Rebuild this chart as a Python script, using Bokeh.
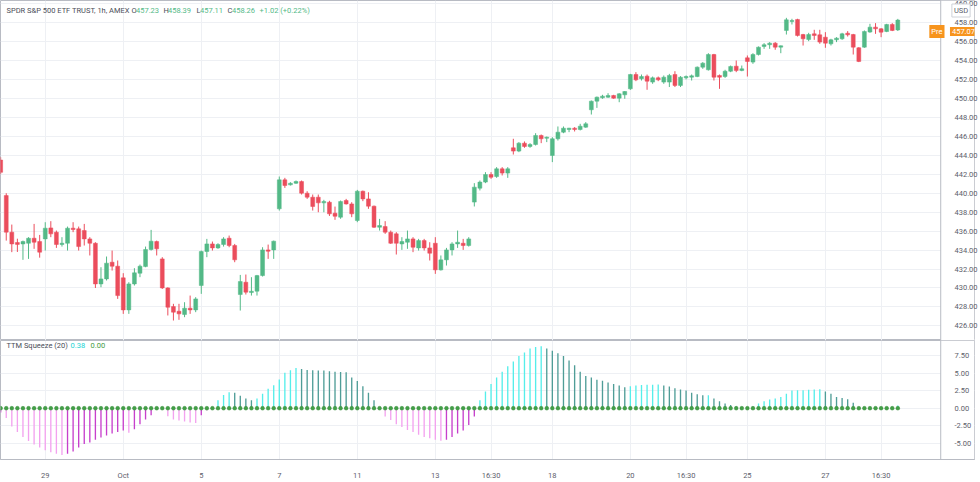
from bokeh.plotting import figure
from bokeh.layouts import column
from bokeh.models import (Range1d, FixedTicker, Label, ColumnDataSource, PrintfTickFormatter,
                          BoxAnnotation, Span)
from bokeh.embed import file_html
from bokeh.resources import INLINE

# ---------------- data ----------------
bar_idx = list(range(-1, 161))
opens = [443.5, 439.75, 435.89, 434.8, 434.65, 434.72, 435.25, 434.9, 435.18, 436.34, 435.89,
         434.59, 434.72, 436.31, 436.24, 436.06, 435.18, 434.72, 430.43, 430.96, 432.72, 432.3,
         431.07, 427.69, 430.43, 431.56, 432.26, 434.06, 434.9, 433.07, 430.01, 428.04, 427.55,
         427.2, 427.87, 427.69, 430.26, 433.85, 434.65, 434.23, 434.59, 435.25, 434.48, 429.31,
         430.61, 429.52, 429.66, 431.31, 434.02, 434.02, 438.35, 441.41, 440.88, 441.05, 441.23,
         440.0, 439.58, 439.58, 438.98, 439.05, 437.89, 437.47, 439.23, 438.87, 437.12, 440.21,
         439.4, 438.63, 436.41, 436.48, 435.89, 435.71, 434.65, 434.83, 435.18, 434.23, 435.0,
         434.23, 434.72, 431.91, 432.97, 434.02, 434.65, 434.72, 434.48, 439.06, 440.53, 441.17,
         441.97, 441.76, 442.57, 442.12, 444.79, 444.44, 445.28, 444.93, 445.14, 446.09, 445.8,
         443.98, 445.74, 446.44, 446.72, 446.86, 446.72, 446.97, 448.8, 449.71, 450.06, 450.13,
         450.31, 450.03, 450.38, 451.01, 452.52, 452.07, 452.35, 451.72, 452.17, 451.72, 451.72,
         452.52, 451.37, 452.17, 452.24, 452.31, 453.3, 453.02, 454.63, 452.42, 452.31, 452.87,
         453.4, 452.94, 454.28, 453.83, 454.63, 455.48, 455.66, 455.83, 455.41, 457.17, 458.12,
         458.33, 456.74, 456.22, 456.81, 456.71, 456.46, 455.76, 456.18, 456.29, 456.88, 456.74,
         455.34, 455.41, 457.0, 457.52, 457.34, 457.06, 457.8, 457.23]
highs = [443.8, 440.0, 436.69, 435.2, 435.0, 435.36, 436.76, 435.6, 436.94, 437.05, 436.06,
         435.36, 436.48, 436.94, 436.48, 436.76, 435.36, 434.83, 432.19, 433.32, 433.95, 432.9,
         431.56, 430.61, 432.09, 432.47, 434.37, 436.13, 435.0, 433.25, 430.08, 428.33, 428.33,
         428.5, 429.2, 429.03, 433.95, 435.18, 434.9, 434.72, 435.36, 435.53, 434.65, 431.38,
         431.42, 431.14, 431.38, 434.3, 434.58, 435.0, 441.76, 441.62, 441.16, 441.34, 441.34,
         440.21, 439.86, 439.86, 439.3, 439.2, 438.59, 439.23, 439.4, 439.05, 440.35, 440.28,
         440.1, 438.7, 437.29, 437.05, 436.06, 435.89, 435.36, 436.06, 435.36, 435.18, 435.18,
         434.83, 435.36, 433.43, 434.23, 434.83, 436.06, 435.18, 435.36, 441.06, 441.34, 442.22,
         442.22, 442.75, 442.75, 442.75, 445.74, 445.39, 445.46, 445.28, 446.33, 446.19, 445.98,
         445.91, 447.04, 447.04, 446.9, 446.97, 447.32, 447.5, 449.78, 450.2, 450.38, 450.55,
         450.38, 450.55, 450.77, 452.59, 452.77, 452.52, 452.52, 452.31, 452.31, 452.42, 452.59,
         452.87, 452.35, 452.42, 452.52, 453.37, 453.83, 454.77, 454.7, 452.52, 453.02, 453.47,
         454.0, 453.47, 454.53, 454.77, 455.48, 455.83, 455.94, 455.94, 455.58, 458.5, 458.4,
         458.4, 456.81, 456.92, 457.24, 457.24, 456.99, 456.29, 456.46, 456.92, 457.1, 456.81,
         455.41, 457.17, 457.87, 457.94, 457.41, 457.87, 457.94, 458.39]
lows = [442.0, 435.0, 433.78, 433.8, 432.97, 433.07, 434.13, 433.2, 433.95, 435.36, 434.23,
        434.37, 433.95, 435.89, 433.95, 434.48, 433.43, 430.0, 430.08, 430.79, 431.84, 428.85,
        427.27, 427.27, 430.26, 431.14, 432.19, 433.95, 433.43, 429.9, 427.1, 426.57, 426.64,
        426.92, 427.27, 427.45, 429.38, 433.25, 433.95, 434.13, 434.37, 434.3, 432.72, 427.62,
        429.31, 429.2, 429.2, 431.21, 433.07, 433.07, 438.17, 440.56, 440.81, 440.98, 439.86,
        439.4, 438.17, 437.99, 437.99, 437.6, 437.19, 437.3, 438.8, 437.47, 436.94, 439.16,
        438.35, 436.34, 436.06, 435.71, 434.65, 433.53, 434.02, 434.13, 433.78, 433.95, 433.95,
        432.9, 431.49, 431.84, 432.37, 433.43, 434.23, 434.02, 434.37, 438.6, 440.29, 441.06,
        441.52, 441.62, 441.87, 441.62, 444.08, 444.33, 444.79, 444.79, 445.03, 445.28, 445.39,
        443.28, 445.56, 446.33, 446.44, 446.51, 446.62, 446.9, 448.3, 449.0, 449.96, 450.06,
        449.96, 449.6, 449.96, 450.9, 451.82, 451.89, 450.91, 451.54, 451.82, 451.54, 451.2,
        451.2, 451.2, 452.0, 451.89, 452.24, 453.12, 452.94, 451.89, 451.01, 452.17, 452.77,
        452.77, 452.87, 452.31, 453.65, 454.53, 455.23, 455.23, 455.13, 454.77, 456.74, 457.8,
        456.53, 455.58, 456.04, 456.18, 455.76, 455.34, 455.58, 455.94, 456.18, 456.53, 454.63,
        453.83, 455.34, 456.92, 456.81, 456.46, 456.99, 457.1, 457.11]
closes = [442.2, 435.89, 434.65, 434.6, 434.9, 435.25, 434.83, 433.78, 436.31, 435.71, 434.59,
          434.72, 436.31, 436.17, 434.37, 435.18, 434.72, 430.43, 430.96, 432.62, 432.3, 429.2,
          427.69, 430.43, 431.6, 432.3, 434.06, 434.94, 434.13, 430.01, 427.97, 427.45, 427.27,
          427.87, 427.69, 428.85, 433.85, 434.65, 434.23, 434.59, 435.18, 434.48, 432.97, 430.68,
          429.56, 429.66, 431.31, 434.02, 433.88, 434.94, 441.41, 440.81, 441.05, 441.23, 440.0,
          439.58, 438.6, 438.98, 439.12, 437.82, 437.57, 439.12, 438.87, 437.82, 440.21, 439.4,
          438.63, 436.41, 436.59, 435.89, 434.72, 434.72, 434.9, 435.18, 434.3, 435.0, 434.23,
          433.67, 431.91, 432.97, 434.02, 434.65, 434.83, 434.48, 435.18, 440.64, 441.17, 441.97,
          441.69, 442.57, 442.12, 442.57, 444.44, 445.28, 444.93, 445.14, 446.09, 445.74, 445.91,
          445.74, 446.44, 446.86, 446.86, 446.72, 447.07, 447.32, 449.71, 450.13, 450.24, 450.31,
          450.03, 450.48, 450.73, 452.52, 451.96, 452.31, 451.82, 452.17, 451.96, 452.24, 452.42,
          451.37, 452.24, 452.31, 452.38, 453.3, 453.72, 454.63, 452.24, 452.24, 452.87, 453.37,
          452.94, 453.12, 453.9, 454.63, 455.41, 455.66, 455.83, 455.41, 455.55, 458.29, 458.22,
          456.64, 456.29, 456.74, 456.64, 455.94, 455.83, 456.18, 456.36, 456.81, 456.71, 455.41,
          453.9, 457.06, 457.52, 457.34, 456.99, 457.8, 457.17, 458.26]
squeeze = [-0.6, -1.4, -2.6, -3.4, -4.1, -4.7, -5.2, -5.6, -6.0, -6.3, -6.5, -6.7, -6.5, -6.2,
           -5.6, -5.1, -4.9, -4.5, -4.2, -3.9, -3.6, -3.4, -3.2, -3.5, -3.0, -2.3, -1.6, -1.0,
           -0.25, -0.1, -1.15, -1.6, -1.75, -1.9, -2.05, -2.1, -1.0, -0.3, 0.1, 1.15, 1.9, 2.3,
           2.2, 1.8, 1.4, 1.15, 1.4, 2.07, 2.77, 3.3, 4.1, 5.07, 5.44, 5.76, 5.6, 5.45, 5.42,
           5.4, 5.38, 5.3, 5.2, 5.18, 5.15, 4.4, 3.9, 3.13, 2.2, 1.15, 0.1, -1.2, -1.7, -2.3,
           -2.7, -3.1, -3.4, -3.8, -4.1, -4.3, -4.5, -4.65, -4.5, -4.1, -3.6, -3.2, -2.4, -1.2,
           1.15, 2.4, 3.46, 4.38, 5.2, 6.0, 6.68, 7.47, 7.97, 8.53, 8.76, 8.85, 8.53, 8.2, 7.84,
           7.47, 6.82, 6.13, 5.2, 4.61, 4.38, 4.06, 3.92, 3.69, 3.46, 3.23, 3.0, 3.14, 3.23, 3.32,
           3.34, 3.37, 3.39, 3.23, 3.09, 2.86, 2.68, 2.54, 2.22, 1.99, 1.84, 1.86, 1.38, 1.01,
           0.69, 0.46, 0.23, 0.09, 0.02, 0.23, 0.69, 1.01, 1.24, 1.38, 1.61, 2.07, 2.54, 2.56,
           2.58, 2.63, 2.68, 2.7, 2.4, 2.07, 1.61, 1.47, 1.29, 0.78, 0.09, -0.15, -0.25, -0.3,
           -0.2, 0.05, 0.2, 0.38]

time_tick_pos = [7, 21, 35, 49, 63, 77, 87, 98, 112, 122, 133, 147, 157]
time_tick_labels = ["29", "Oct", "5", "7", "11", "13", "16:30", "18", "20", "16:30", "25", "27", "16:30"]
price_ticks = list(range(426, 462, 2))
squeeze_ticks = [-5.0, -2.5, 0.0, 2.5, 5.0, 7.5]

title_text = "SPDR S&P 500 ETF TRUST, 1h, AMEX"
ohlc_keys = ["O", "H", "L", "C"]
ohlc_vals = ["457.23", "458.39", "457.11", "458.26"]
change_text = "+1.02 (+0.22%)"
last_pre = 457.07
currency = "USD"
pre_tag = "Pre"

# ---------------- styles ----------------
UP = "#53b987"
DOWN = "#eb4d5c"
GRID = "#eef0f4"
BORDER = "#b8bbc3"
TXT = "#5d606b"
FONT = "Roboto"
FS = "7.5px"
ORANGE = "#f7941d"

W = 980
X_LAST = 167.7            # data x at the price-scale border
x_range = Range1d(-1.03, 173.76)

def style_yaxis(ax):
    ax.axis_line_color = None
    ax.major_tick_line_color = None
    ax.minor_tick_line_color = None
    ax.major_label_text_font = FONT
    ax.major_label_text_font_size = FS
    ax.major_label_text_color = TXT
    ax.major_label_standoff = -26

def scale_strip(fig):
    # white strip for the price scale, above the grid, and its border line
    fig.add_layout(BoxAnnotation(left=X_LAST, fill_color="white", fill_alpha=1.0,
                                 line_color=None, level="underlay"))
    fig.add_layout(Span(location=X_LAST, dimension="height", line_color=BORDER,
                        line_width=1, level="guide"))

def lab(fig, x, y, text, color=TXT, bg=None, border=None, align="left", size=FS):
    l = Label(x=x, y=y, x_units="screen", y_units="screen", text=text,
              text_font=FONT, text_font_size=size, text_color=color,
              text_align=align, text_baseline="middle")
    if bg is not None:
        l.background_fill_color = bg
        l.padding = 2
    if border is not None:
        l.border_line_color = border
    fig.add_layout(l)
    return l

# ---------------- main pane ----------------
p1 = figure(width=W, height=340, x_range=x_range, y_range=Range1d(424.46, 460.33),
            output_backend="svg", toolbar_location=None, y_axis_location="right",
            x_axis_location=None, min_border_left=0, min_border_right=0,
            min_border_top=0, min_border_bottom=0)
p1.background_fill_color = "white"
p1.border_fill_color = "white"
p1.outline_line_color = BORDER
p1.outline_line_width = 1

p1.yaxis.ticker = FixedTicker(ticks=price_ticks)
p1.yaxis.formatter = PrintfTickFormatter(format="%.2f")
style_yaxis(p1.yaxis[0])
p1.ygrid.ticker = FixedTicker(ticks=price_ticks)
p1.xgrid.ticker = FixedTicker(ticks=time_tick_pos)
for g in (p1.xgrid, p1.ygrid):
    g.grid_line_color = GRID
    g.grid_line_width = 1
scale_strip(p1)

inc = [c >= o for o, c in zip(opens, closes)]
colors = [UP if u else DOWN for u in inc]
src = ColumnDataSource(dict(x=bar_idx, o=opens, h=highs, l=lows, c=closes,
                            top=[max(o, c) for o, c in zip(opens, closes)],
                            bot=[min(o, c) for o, c in zip(opens, closes)],
                            col=colors))
p1.segment(x0="x", y0="l", x1="x", y1="h", color="col", line_width=1, source=src)
p1.vbar(x="x", width=0.7, top="top", bottom="bot", fill_color="col", line_color="col",
        line_width=0.5, source=src)

H1 = 340
lab(p1, 6, H1 - 10, title_text, color="#4a4d57")
xs_key = [131, 163, 196, 227]
xs_val = [135.5, 167.5, 199.5, 231.5]
for k, v, xk, xv in zip(ohlc_keys, ohlc_vals, xs_key, xs_val):
    lab(p1, xk, H1 - 10, k, color="#4a4d57")
    lab(p1, xv, H1 - 10, v, color=UP)
lab(p1, 259, H1 - 10, change_text, color=UP)

lab(p1, 960.5, H1 - 10, currency, color=TXT, bg="white", border="#cfd2d8", align="center")
lab(p1, 944, H1 - 31, pre_tag, color="white", bg=ORANGE, align="right")
lab(p1, 963, H1 - 31, "%.2f" % last_pre, color="white", bg=ORANGE, align="center")

# ---------------- squeeze pane ----------------
p2 = figure(width=W, height=142, x_range=x_range, y_range=Range1d(-7.33, 9.68),
            output_backend="svg", toolbar_location=None, y_axis_location="right",
            min_border_left=0, min_border_right=0, min_border_top=0, min_border_bottom=19)
p2.background_fill_color = "white"
p2.border_fill_color = "white"
p2.outline_line_color = BORDER
p2.outline_line_width = 1

p2.yaxis.ticker = FixedTicker(ticks=squeeze_ticks)
p2.yaxis.formatter = PrintfTickFormatter(format="%.2f")
style_yaxis(p2.yaxis[0])
p2.ygrid.ticker = FixedTicker(ticks=squeeze_ticks)
p2.xaxis.ticker = FixedTicker(ticks=time_tick_pos)
p2.xaxis.major_label_overrides = {pos: t for pos, t in zip(time_tick_pos, time_tick_labels)}
xa = p2.xaxis[0]
xa.axis_line_color = BORDER
xa.major_tick_line_color = None
xa.minor_tick_line_color = None
xa.major_label_text_font = FONT
xa.major_label_text_font_size = FS
xa.major_label_text_color = TXT
xa.major_label_standoff = 5
for g in (p2.xgrid, p2.ygrid):
    g.grid_line_color = GRID
    g.grid_line_width = 1
scale_strip(p2)

CYAN, TEAL, PINK, MAGENTA = "#55eeea", "#4f9d97", "#f3a2ef", "#c73fcc"
hcols = []
for i, v in enumerate(squeeze):
    prev = squeeze[i - 1] if i > 0 else v
    if v >= 0:
        hcols.append(CYAN if v > prev else TEAL)
    else:
        hcols.append(PINK if v < prev else MAGENTA)
hsrc = ColumnDataSource(dict(x=bar_idx, v=squeeze, col=hcols, z=[0.0] * len(bar_idx)))
p2.vbar(x="x", width=0.24, top="v", bottom=0, fill_color="col", line_color=None, source=hsrc)
p2.scatter(x="x", y="z", size=3.8, fill_color="#43a047", line_color="#3b8f3e",
           line_width=0.5, source=hsrc)

H2 = 123
lab(p2, 6, H2 - 9, "TTM Squeeze (20)", color="#4a4d57")
lab(p2, 70, H2 - 9, "%.2f" % squeeze[-1], color="#22d3d3")
lab(p2, 90, H2 - 9, "0.00", color="#3f9b3f")

layout = column(p1, p2, spacing=0)
open("out.html", "w").write(file_html(layout, INLINE))
